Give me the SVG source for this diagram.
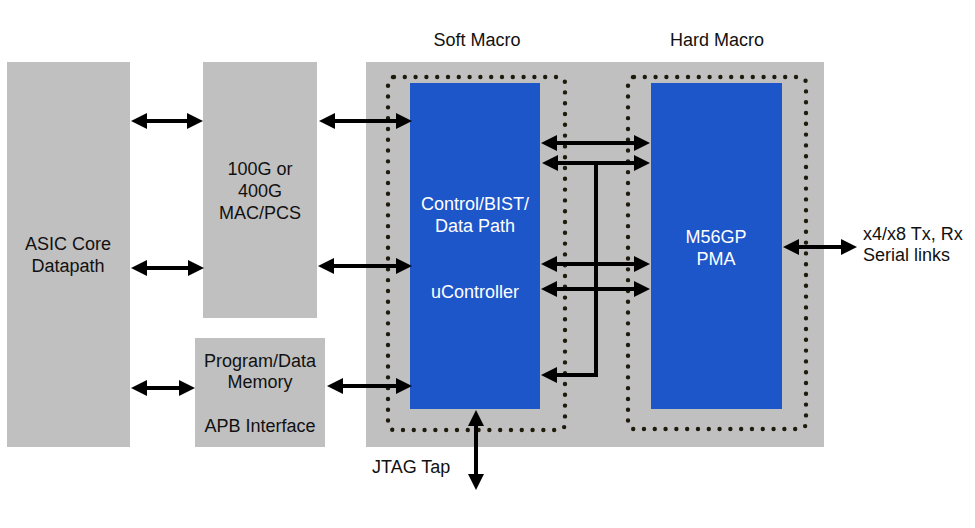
<svg xmlns="http://www.w3.org/2000/svg" width="975" height="528" viewBox="0 0 975 528">
<style>
.g{fill:#c0c0c0}
.b{fill:#1d56c9}
.dot{fill:none;stroke:#1e1a0c;stroke-width:4.4;stroke-linecap:round;stroke-dasharray:0 10.8}
.t{font-family:"Liberation Sans",Arial,sans-serif;font-size:18px;fill:#111;text-anchor:middle}
.w{fill:#fff}
.l{text-anchor:start}
.a{stroke:#000;stroke-width:4;fill:none;marker-end:url(#ah)}
.d{marker-start:url(#ah)}
</style>
<defs>
<marker id="ah" markerUnits="userSpaceOnUse" viewBox="0 0 16 16" markerWidth="16" markerHeight="16" refX="5" refY="8" orient="auto-start-reverse">
<path d="M0,0 L16,8 L0,16 Z" fill="#000"/>
</marker>
</defs>
<rect class="g" x="366" y="62" width="458" height="385"/>
<text class="t" x="477" y="46">Soft Macro</text>
<text class="t" x="717" y="46">Hard Macro</text>
<g id="asic">
<rect class="g" x="7" y="62" width="123" height="385"/>
<text class="t" x="68" y="250">ASIC Core</text>
<text class="t" x="68" y="272">Datapath</text>
</g>
<g id="mac">
<rect class="g" x="203" y="62" width="114" height="256"/>
<text class="t" x="260" y="175">100G or</text>
<text class="t" x="260" y="197">400G</text>
<text class="t" x="260" y="219">MAC/PCS</text>
</g>
<g id="mem">
<rect class="g" x="195" y="338" width="130" height="109"/>
<text class="t" x="260" y="367">Program/Data</text>
<text class="t" x="260" y="388">Memory</text>
<text class="t" x="260" y="432">APB Interface</text>
</g>
<g id="soft">
<rect class="dot" x="388" y="77" width="177" height="353" rx="6"/>
<rect class="b" x="410" y="83" width="130" height="326"/>
<text class="t w" x="475" y="210">Control/BIST/</text>
<text class="t w" x="475" y="232">Data Path</text>
<text class="t w" x="475" y="298">uController</text>
</g>
<g id="hard">
<rect class="dot" x="628" y="77" width="178" height="352" rx="6"/>
<rect class="b" x="651" y="83" width="131" height="326"/>
<text class="t w" x="716" y="243">M56GP</text>
<text class="t w" x="716" y="265">PMA</text>
</g>
<text class="t l" x="863" y="240">x4/x8 Tx, Rx</text>
<text class="t l" x="863" y="261">Serial links</text>
<text class="t l" x="372" y="473">JTAG Tap</text>
<g id="connectors">
<line class="a d" x1="142" y1="121" x2="192" y2="121"/>
<line class="a d" x1="142" y1="268" x2="193" y2="268"/>
<line class="a d" x1="142" y1="388" x2="184" y2="388"/>
<line class="a d" x1="330" y1="121" x2="401" y2="121"/>
<line class="a d" x1="329" y1="266" x2="401" y2="266"/>
<line class="a d" x1="338" y1="386" x2="401" y2="386"/>
<line class="a d" x1="552" y1="143" x2="639" y2="143"/>
<line class="a d" x1="553" y1="163" x2="639" y2="163"/>
<line class="a d" x1="552" y1="264" x2="639" y2="264"/>
<line class="a d" x1="552" y1="289" x2="639" y2="289"/>
<path class="a" d="M596,163 V375 H552"/>
<line class="a d" x1="794" y1="247" x2="846" y2="247"/>
<line class="a d" x1="476" y1="421" x2="476" y2="479"/>
</g>
</svg>
